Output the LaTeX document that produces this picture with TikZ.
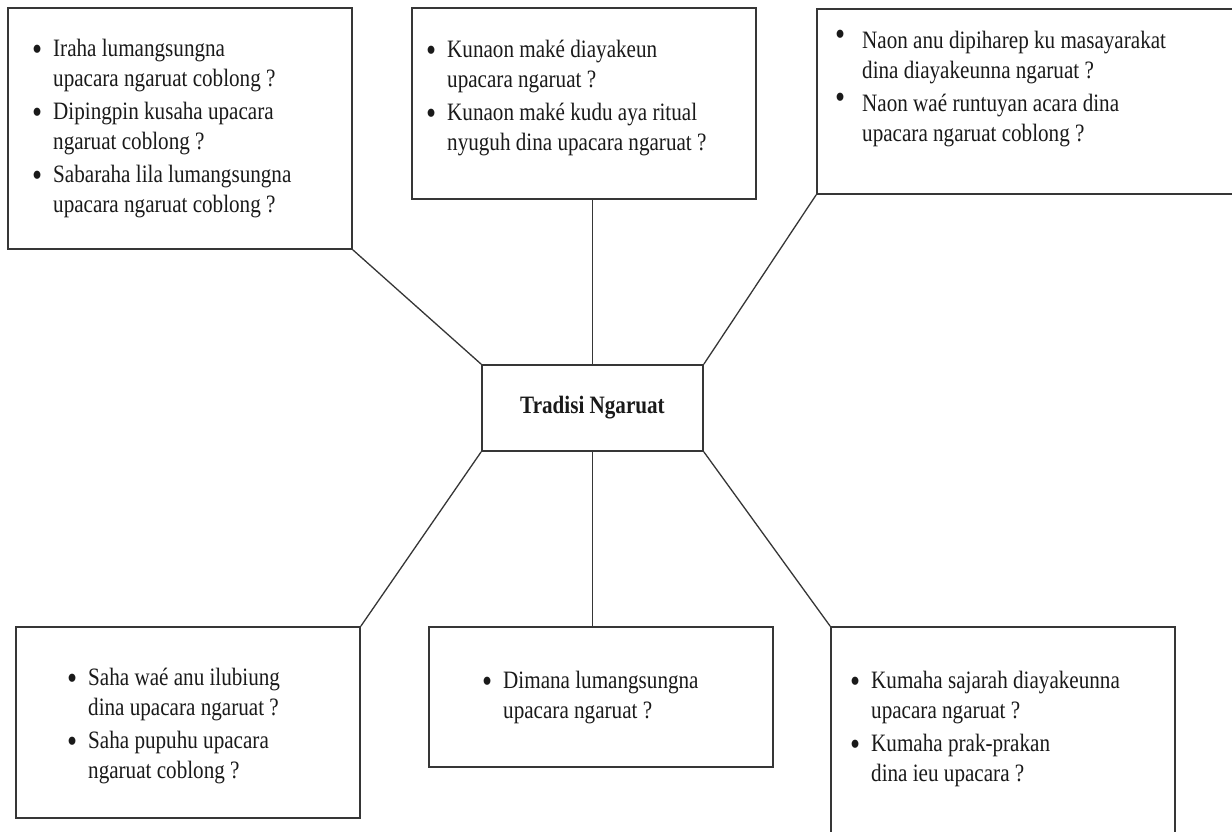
\documentclass[tikz,border=0pt]{standalone}
\usepackage{fontspec}
\setmainfont{Liberation Serif}[FakeStretch=0.845]
\usepackage{tikz}
\usetikzlibrary{positioning}
\definecolor{boxline}{HTML}{363636}
\definecolor{bodytext}{HTML}{1A1A1A}
\newcommand{\bigdot}{{\fontsize{34}{30}\selectfont\textbullet}}
\newcommand{\bul}{\makebox[20pt][l]{\hspace*{-1pt}\raisebox{-4pt}{\bigdot}}}
\newcommand{\bulup}{\makebox[27pt][l]{\raisebox{3pt}{\bigdot}}}
\newcommand{\nobul}{\hspace*{20pt}}
\newcommand{\nobulup}{\hspace*{27pt}}

\begin{document}
\begin{tikzpicture}[x=1pt, y=-1pt,
    qbox/.style={draw=boxline, line width=1.7pt, rectangle, inner sep=0pt},
    qlist/.style={anchor=base west, inner sep=0pt, text=bodytext, font=\fontsize{25}{30}\selectfont},
    link/.style={draw=boxline, line width=1.3pt}]
    % Page
    \useasboundingbox (0,0) rectangle (1232,832);
    \fill[white] (0,0) rectangle (1232,832);
    \clip (0,0) rectangle (1232,832);

    % Question boxes
    \node[qbox, minimum width=344pt, minimum height=241pt] (tl) at (180,128.5) {};
    \node[qbox, minimum width=344pt, minimum height=191pt] (tm) at (584,103.5) {};
    \node[qbox, minimum width=428pt, minimum height=185pt] (tr) at (1031,101.5) {};
    \node[qbox, minimum width=344pt, minimum height=191pt] (bl) at (188,722.5) {};
    \node[qbox, minimum width=344pt, minimum height=140pt] (bm) at (601,697) {};
    \node[qbox, minimum width=344pt, minimum height=218pt] (br) at (1003,736) {};

    % Centre box
    \node[qbox, minimum width=221pt, minimum height=86pt, text=bodytext,
          font=\fontsize{25}{30}\selectfont\bfseries] (hub) at (592.5,408) {Tradisi Ngaruat};

    % Connectors
    \draw[link] (tl.south east) -- (hub.north west);
    \draw[link] (hub.north) -- (hub.north |- tm.south);
    \draw[link] (tr.south west) -- (hub.north east);
    \draw[link] (bl.north east) -- (hub.south west);
    \draw[link] (hub.south) -- (hub.south |- bm.north);
    \draw[link] (br.north west) -- (hub.south east);

    % Questions
    \node[qlist] (tl-txt) at (33,57) {\begin{tabular}[t]{@{}l@{}}
        \bul Iraha lumangsungna\\
        \nobul upacara ngaruat coblong ?\\[3pt]
        \bul Dipingpin kusaha upacara\\
        \nobul ngaruat coblong ?\\[3pt]
        \bul Sabaraha lila lumangsungna\\
        \nobul upacara ngaruat coblong ?
    \end{tabular}};
    \node[qlist] (tm-txt) at (427,58) {\begin{tabular}[t]{@{}l@{}}
        \bul Kunaon maké diayakeun\\
        \nobul upacara ngaruat ?\\[3pt]
        \bul Kunaon maké kudu aya ritual\\
        \nobul nyuguh dina upacara ngaruat ?
    \end{tabular}};
    \node[qlist] (tr-txt) at (835,49) {\begin{tabular}[t]{@{}l@{}}
        \bulup Naon anu dipiharep ku masayarakat\\
        \nobulup dina diayakeunna ngaruat ?\\[3pt]
        \bulup Naon waé runtuyan acara dina\\
        \nobulup upacara ngaruat coblong ?
    \end{tabular}};
    \node[qlist] (bl-txt) at (68,685) {\begin{tabular}[t]{@{}l@{}}
        \bul Saha waé anu ilubiung\\
        \nobul dina upacara ngaruat ?\\[3pt]
        \bul Saha pupuhu upacara\\
        \nobul ngaruat coblong ?
    \end{tabular}};
    \node[qlist] (bm-txt) at (483,688) {\begin{tabular}[t]{@{}l@{}}
        \bul Dimana lumangsungna\\
        \nobul upacara ngaruat ?
    \end{tabular}};
    \node[qlist] (br-txt) at (851,688) {\begin{tabular}[t]{@{}l@{}}
        \bul Kumaha sajarah diayakeunna\\
        \nobul upacara ngaruat ?\\[3pt]
        \bul Kumaha prak-prakan\\
        \nobul dina ieu upacara ?
    \end{tabular}};
\end{tikzpicture}
\end{document}
